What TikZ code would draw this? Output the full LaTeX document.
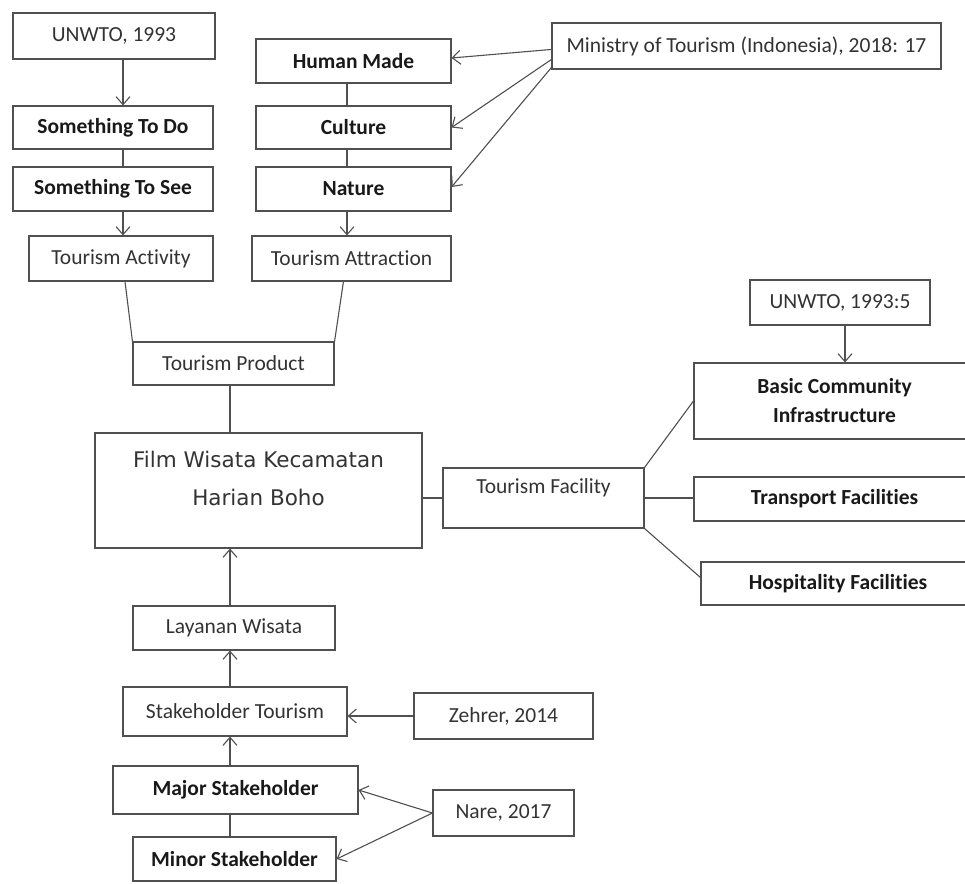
\documentclass[tikz,border=0pt]{standalone}
\usepackage{fontspec}
\setmainfont{Carlito}[Ligatures={NoCommon}]
\newfontfamily\filmfont{DejaVu Sans}
\usetikzlibrary{arrows.meta,calc}
\definecolor{linec}{HTML}{505050}
\definecolor{txtc}{HTML}{333333}
\begin{document}
\begin{tikzpicture}[x=1pt,y=-1pt,
  box/.style={draw=linec, line width=1.1pt, fill=white, inner sep=0pt, align=center,
    font=\fontsize{21.5}{29}\selectfont, text=txtc},
  bbox/.style={box, font=\fontsize{21.5}{29}\selectfont\bfseries, text=black!90},
  filmtxt/.style={align=center, font=\filmfont\fontsize{21.5}{38}\selectfont, text=black!80},
  conn/.style={draw=linec, line width=1.1pt},
  arr/.style={conn, -{Straight Barb[length=8pt,width=14pt]}},
]
\useasboundingbox[fill=white] (0,0) rectangle (965,883);

% column coordinates
\coordinate (xL) at (123,0);
\coordinate (xM) at (347,0);
\coordinate (xC) at (230,0);
\coordinate (xR) at (845,0);

% left column
\node[box,  minimum width=202pt, minimum height=46pt] (unwto) at (114,36) {UNWTO, 1993};
\node[bbox, minimum width=200pt, minimum height=43pt] (todo) at (113,127.5) {Something To Do};
\node[bbox, minimum width=200pt, minimum height=44pt] (see) at (113,189) {Something To See};
\node[box,  minimum width=184pt, minimum height=45pt] (activity) at (121,258.5) {Tourism Activity};

% middle column
\node[bbox, minimum width=195pt, minimum height=44pt] (human) at (353.5,61) {Human Made};
\node[bbox, minimum width=195pt, minimum height=43pt] (culture) at (353.5,127.5) {Culture};
\node[bbox, minimum width=195pt, minimum height=44pt] (nature) at (353.5,189) {Nature};
\node[box,  minimum width=199pt, minimum height=45pt] (attraction) at (351.5,258.5) {Tourism Attraction};

\node[box, minimum width=389pt, minimum height=46pt] (ministry) at (746.5,46) {Ministry of Tourism (Indonesia), 2018: 17};

% centre
\node[box, minimum width=201pt, minimum height=43pt] (product) at (233.5,363.5) {Tourism Product};
\node[box, minimum width=327pt, minimum height=115pt,
  label={[filmtxt, yshift=12pt]center:Film Wisata Kecamatan\\Harian Boho}] (film) at (258.5,490.5) {};
\node[box, minimum width=201pt, minimum height=60pt,
  label={[font=\fontsize{21.5}{29}\selectfont, text=txtc, yshift=10pt]center:Tourism Facility}] (facility) at (543.5,498) {};

% right
\node[box,  minimum width=180pt, minimum height=45pt] (unwtofive) at (840,302.5) {UNWTO, 1993:5};
\node[bbox, minimum width=281pt, minimum height=76pt] (basic) at (834.5,401) {Basic Community\\Infrastructure};
\node[bbox, minimum width=281pt, minimum height=44pt] (transport) at (834.5,499) {Transport Facilities};
\node[bbox, minimum width=274pt, minimum height=43pt] (hospitality) at (838,583.5) {Hospitality Facilities};

% bottom
\node[box,  minimum width=202pt, minimum height=44pt] (layanan) at (234,628) {Layanan Wisata};
\node[box,  minimum width=224pt, minimum height=49pt] (stake) at (235,711.5) {Stakeholder Tourism};
\node[box,  minimum width=179pt, minimum height=46pt] (zehrer) at (503.5,716) {Zehrer, 2014};
\node[bbox, minimum width=245pt, minimum height=48pt] (major) at (235.5,790) {Major Stakeholder};
\node[box,  minimum width=141pt, minimum height=46pt] (nare) at (503.5,813) {Nare, 2017};
\node[bbox, minimum width=203pt, minimum height=44pt] (minor) at (234.5,859) {Minor Stakeholder};

% connectors: left column
\draw[arr]  (unwto.south -| xL) -- (todo.north -| xL);
\draw[conn] (todo.south -| xL) -- (see.north -| xL);
\draw[arr]  (see.south -| xL) -- (activity.north -| xL);

% middle column
\draw[conn] (human.south -| xM) -- (culture.north -| xM);
\draw[conn] (culture.south -| xM) -- (nature.north -| xM);
\draw[arr]  (nature.south -| xM) -- (attraction.north -| xM);

% ministry
\draw[arr] ($(ministry.north west)+(0,27)$) -- ($(human.east)+(0,-3)$);
\draw[arr] ($(ministry.north west)+(0,37)$) -- (culture.east);
\draw[arr] ($(ministry.north west)+(0,45)$) -- ($(nature.east)+(0,-2)$);

% to product
\draw[conn] ($(activity.south)+(4,0)$) -- (product.north west);
\draw[conn] ($(attraction.south west)+(92,0)$) -- (product.north east);
\draw[conn] (product.south -| xC) -- (film.north -| xC);

% facility
\draw[conn] (film.east |- facility.west) -- (facility.west);
\draw[conn] (facility.north east) -- (basic.west);
\draw[conn] (facility.east) -- (transport.west |- facility.east);
\draw[conn] (facility.south east) -- ($(hospitality.west)+(0,-6)$);
\draw[arr]  (unwtofive.south -| xR) -- (basic.north -| xR);

% bottom chain
\draw[arr]  (layanan.north -| xC) -- (film.south -| xC);
\draw[arr]  (stake.north -| xC) -- (layanan.south -| xC);
\draw[arr]  (major.north -| xC) -- (stake.south -| xC);
\draw[conn] (major.south -| xC) -- (minor.north -| xC);
\draw[arr]  (zehrer.west) -- (stake.east |- zehrer.west);
\draw[arr]  (nare.west) -- (major.east);
\draw[arr]  (nare.west) -- (minor.east);
\end{tikzpicture}
\end{document}
